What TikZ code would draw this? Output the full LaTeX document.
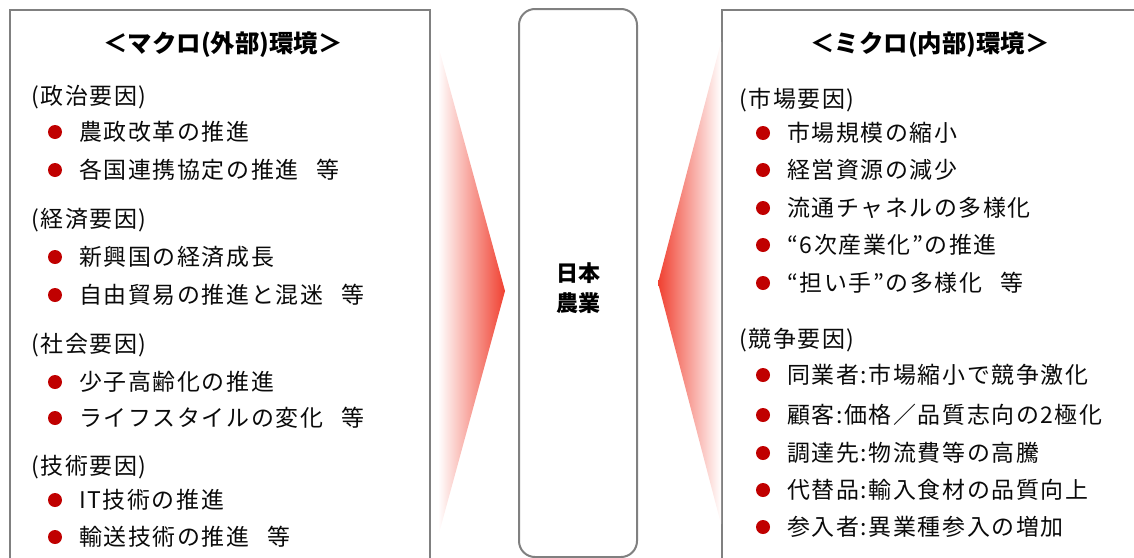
\documentclass[tikz,border=0pt]{standalone}
\usepackage{fontspec}
\setmainfont{Noto Sans CJK JP}
\newfontfamily\jp[LetterSpace=7]{Noto Sans CJK JP}
\newfontfamily\jpb{Noto Sans CJK JP}
\newcommand\etcgap{\hspace{0.8em}}
\definecolor{bord}{RGB}{128,128,128}
\definecolor{bul}{RGB}{192,0,0}
\definecolor{arr}{RGB}{240,64,48}
\definecolor{txt}{RGB}{10,10,10}
\begin{document}
\begin{tikzpicture}[x=0.75pt,y=-0.75pt,
  box/.style={draw=bord,line width=1.5pt},
  item/.style={anchor=west,inner sep=0pt,font=\jp\fontsize{17.2}{18}\selectfont,text=txt},
  ttl/.style={inner sep=0pt,font=\jpb\bfseries\fontsize{18.3}{18}\selectfont,text=black},
  mid/.style={inner sep=0pt,align=center,font=\jpb\bfseries\fontsize{16.5}{22.5}\selectfont,text=black},
  dot/.style={circle,fill=bul,inner sep=0pt,minimum size=10.5pt}]
\useasboundingbox (0,0) rectangle (1134,557);
\clip (0,0) rectangle (1134,557);
% boxes
\draw[box] (10,10) rectangle (430,570);
\draw[box] (722,10) rectangle (1150,570);
\draw[box,rounded corners=12pt] (519,9) rectangle (637,557);
% gradient wedges
\shade[left color=white, right color=arr] (438,45) -- (505,291) -- (438,537) -- cycle;
\shade[left color=arr, right color=white] (658,283) -- (721,42) -- (721,524) -- cycle;
% centre
\node[mid] (core) at (578,288) {日本\\農業};
% left titles
\node[ttl] (lt) at (223,45) {＜マクロ(外部)環境＞};
\node[item] (h1) at (31,97) {(政治要因)};
\node[dot] (d11) at (55,132) {}; \node[item] (i11) at (79,132) {農政改革の推進};
\node[dot] (d12) at (55,170) {}; \node[item] (i12) at (79,170) {各国連携協定の推進\etcgap 等};
\node[item] (h2) at (31,220) {(経済要因)};
\node[dot] (d21) at (55,257) {}; \node[item] (i21) at (79,257) {新興国の経済成長};
\node[dot] (d22) at (55,295) {}; \node[item] (i22) at (79,295) {自由貿易の推進と混迷\etcgap 等};
\node[item] (h3) at (31,345) {(社会要因)};
\node[dot] (d31) at (55,382) {}; \node[item] (i31) at (79,382) {少子高齢化の推進};
\node[dot] (d32) at (55,418) {}; \node[item] (i32) at (79,418) {ライフスタイルの変化\etcgap 等};
\node[item] (h4) at (31,467) {(技術要因)};
\node[dot] (d41) at (55,500) {}; \node[item] (i41) at (79,500) {IT技術の推進};
\node[dot] (d42) at (55,537) {}; \node[item] (i42) at (79,537) {輸送技術の推進\etcgap 等};
% right
\node[ttl] (rt) at (930,45) {＜ミクロ(内部)環境＞};
\node[item] (h5) at (739,100) {(市場要因)};
\node[dot] (d51) at (763,133) {}; \node[item] (i51) at (787,133) {市場規模の縮小};
\node[dot] (d52) at (763,170) {}; \node[item] (i52) at (787,170) {経営資源の減少};
\node[dot] (d53) at (763,208) {}; \node[item] (i53) at (787,208) {流通チャネルの多様化};
\node[dot] (d54) at (763,245) {}; \node[item] (i54) at (787,245) {“6次産業化”の推進};
\node[dot] (d55) at (763,283) {}; \node[item] (i55) at (787,283) {“担い手”の多様化\etcgap 等};
\node[item] (h6) at (739,340) {(競争要因)};
\node[dot] (d61) at (763,375) {}; \node[item] (i61) at (787,375) {同業者:市場縮小で競争激化};
\node[dot] (d62) at (763,415) {}; \node[item] (i62) at (787,415) {顧客:価格／品質志向の2極化};
\node[dot] (d63) at (763,453) {}; \node[item] (i63) at (787,453) {調達先:物流費等の高騰};
\node[dot] (d64) at (763,490) {}; \node[item] (i64) at (787,490) {代替品:輸入食材の品質向上};
\node[dot] (d65) at (763,527) {}; \node[item] (i65) at (787,527) {参入者:異業種参入の増加};
\end{tikzpicture}
\end{document}
